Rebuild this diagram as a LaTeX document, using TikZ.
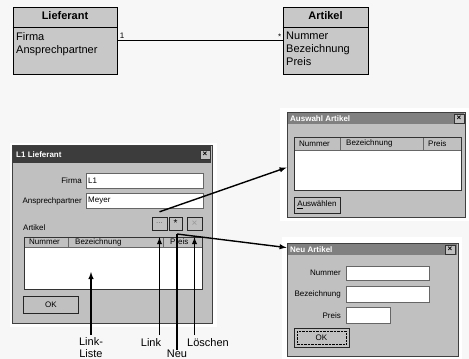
\documentclass[tikz,border=0pt]{standalone}
\usepackage{fontspec}
\setmainfont{Liberation Sans}
\usetikzlibrary{arrows, positioning, calc}
\definecolor{paper}{RGB}{247,247,247}
\definecolor{classgray}{RGB}{200,200,200}
\definecolor{wingray}{RGB}{192,192,192}
\definecolor{titledark}{RGB}{60,60,60}
\definecolor{titlemid}{RGB}{128,128,128}

\begin{document}
\begin{tikzpicture}[x=1pt, y=-1pt,
    classbox/.style={draw, line width=0.8pt, fill=classgray, minimum width=104pt, minimum height=67pt},
    classtitle/.style={font=\fontsize{11}{13}\selectfont\bfseries, inner sep=1pt},
    classattr/.style={font=\fontsize{11}{13}\selectfont, align=left, inner sep=1pt},
    dialog/.style={draw=black!75, line width=0.8pt, fill=wingray, inner sep=0pt},
    dlgtext/.style={font=\fontsize{8}{9}\selectfont, inner sep=1pt},
    field/.style={draw=black!60, fill=white},
    hdr/.style={draw=black!60, fill=wingray},
    winbtn/.style={draw=black!85, fill=wingray, font=\fontsize{8}{9}\selectfont, inner sep=0pt},
    closebtn/.style={draw=black!80, fill=wingray, minimum width=10pt, minimum height=9pt,
        inner sep=0pt, font=\fontsize{8}{8}\selectfont\bfseries},
    titletext/.style={font=\fontsize{8}{9}\selectfont\bfseries, text=white, anchor=west, inner sep=1pt},
    pointer/.style={-latex, line width=1.4pt},
    caption/.style={font=\fontsize{11}{12}\selectfont, align=center, inner sep=0pt}
  ]
  \path[use as bounding box, fill=paper] (0,0) rectangle (469,359);

  % Classes
  \node[classbox] (lieferant) at (65,40.5) {};
  \draw[line width=0.8pt] (lieferant.north west) ++(0,21) -- ++(104,0);
  \node[classtitle, below=4pt of lieferant.north] {Lieferant};
  \node[classattr, anchor=north west] at (15,31) {Firma\\Ansprechpartner};

  \node[classbox, minimum width=85pt] (artikel) at (325.5,40.5) {};
  \draw[line width=0.8pt] (artikel.north west) ++(0,21) -- ++(85,0);
  \node[classtitle, below=4pt of artikel.north] {Artikel};
  \node[classattr, anchor=north west] at (285,31) {Nummer\\Bezeichnung\\Preis};

  % Association
  \draw[line width=0.8pt] (lieferant) -- (artikel)
    node[pos=0, above right, font=\fontsize{8}{9}\selectfont, inner sep=2pt] {1}
    node[pos=1, above left, font=\fontsize{8}{8}\selectfont, inner sep=1pt] {*};

  % Dialog L1 Lieferant
  \fill[white] (10,143) rectangle (217,327);
  \node[dialog, minimum width=200pt, minimum height=178pt] (lfdlg) at (112,234) {};
  \fill[titledark] (13,146) rectangle (211,163);
  \node[titletext] at (15,154.5) {L1 Lieferant};
  \node[closebtn] at (205,154.5) {×};
  \node[dlgtext, anchor=east] at (83,181) {Firma};
  \draw[field] (86,173) rectangle (203,188);
  \node[dlgtext, anchor=west] at (87,180.5) {L1};
  \node[dlgtext, anchor=east] at (83,201) {Ansprechpartner};
  \draw[field] (86,193) rectangle (203,208);
  \node[dlgtext, anchor=west] at (87,200.5) {Meyer};
  \node[dlgtext, anchor=west] at (22,228) {Artikel};
  \node[winbtn, minimum width=15pt, minimum height=13pt, text=black!60] (linkbtn) at (159.5,223.5) {...};
  \node[winbtn, minimum width=13pt, minimum height=13pt, font=\fontsize{10}{10}\selectfont] (neubtn) at (175.5,223.5) {*};
  \node[winbtn, minimum width=15pt, minimum height=13pt, text=black!40, font=\fontsize{10}{10}\selectfont] (delbtn) at (194.5,223.5) {×};
  \draw[hdr] (24,237) rectangle (68,247);
  \draw[hdr] (68,237) rectangle (163,247);
  \draw[hdr] (163,237) rectangle (202,247);
  \node[dlgtext, anchor=west] at (28,242) {Nummer};
  \node[dlgtext, anchor=west] at (74,242) {Bezeichnung};
  \node[dlgtext, anchor=west] at (169,242) {Preis};
  \draw[field] (24,247) rectangle (202,289);
  \draw[black!80] (24,237) rectangle (202,289);
  \node[winbtn, minimum width=55pt, minimum height=17pt, line width=0.8pt] (okbtn) at (51,304.5) {OK};

  % Dialog Auswahl Artikel
  \fill[white] (280,108) rectangle (469,221);
  \node[dialog, minimum width=178pt, minimum height=105pt] (auswahl) at (376,164.5) {};
  \fill[titlemid] (288,113) rectangle (464,124);
  \node[titletext] at (289,118.5) {Auswahl Artikel};
  \node[closebtn] at (459,118.5) {×};
  \draw[hdr] (294,137) rectangle (340,150);
  \draw[hdr] (340,137) rectangle (423,150);
  \draw[hdr] (423,137) rectangle (461,150);
  \node[dlgtext, anchor=west] at (298,143.5) {Nummer};
  \node[dlgtext, anchor=west] at (345,143.5) {Bezeichnung};
  \node[dlgtext, anchor=west] at (427,143.5) {Preis};
  \draw[field] (294,150) rectangle (461,190);
  \draw[black!80] (294,137) rectangle (461,190);
  \node[winbtn, minimum width=46pt, minimum height=16pt] (waehlen) at (317,205) {\underline{A}uswählen};

  % Dialog Neu Artikel
  \fill[white] (282,237) rectangle (462,359);
  \node[dialog, minimum width=171pt, minimum height=113pt] (neuartikel) at (372.5,299.5) {};
  \fill[titlemid] (288,244) rectangle (457,255);
  \node[titletext] at (289,249.5) {Neu Artikel};
  \node[closebtn] at (450,249.5) {×};
  \node[dlgtext, anchor=east] at (342,273) {Nummer};
  \draw[field] (346,266) rectangle (429,280);
  \node[dlgtext, anchor=east] at (342,294) {Bezeichnung};
  \draw[field] (346,286) rectangle (429,302);
  \node[dlgtext, anchor=east] at (342,315.5) {Preis};
  \draw[field] (346,307) rectangle (390,323);
  \node[winbtn, minimum width=55pt, minimum height=19pt, line width=0.8pt] (neuok) at (321.5,337.5) {OK};
  \draw[densely dotted] (297,331) rectangle (346,344);

  % Captions
  \node[caption] (listlbl) at (91,348) {Link-\\Liste};
  \node[caption] (linklbl) at (151,343) {Link};
  \node[caption] (neulbl) at (177,354) {Neu};
  \node[caption] (loeschlbl) at (208,343) {Löschen};
  \coordinate (listmid) at (91,272);
  \coordinate (neuknick) at (177,234);

  % Pointers
  \draw[pointer] (91,335) -- (listmid);
  \draw[pointer] (linkbtn.south |- 0,335) -- ([yshift=-7pt]linkbtn.south);
  \draw[pointer] (delbtn.south |- 0,335) -- ([yshift=-7pt]delbtn.south);
  \draw[line width=1.4pt] (neulbl.north) -- (neuknick);
  \draw[pointer] ([yshift=5pt]linkbtn.north) -- ([yshift=-3pt]auswahl.west);
  \draw[pointer] (neuknick) -- ([yshift=-5pt]neuartikel.north west);
\end{tikzpicture}
\end{document}
